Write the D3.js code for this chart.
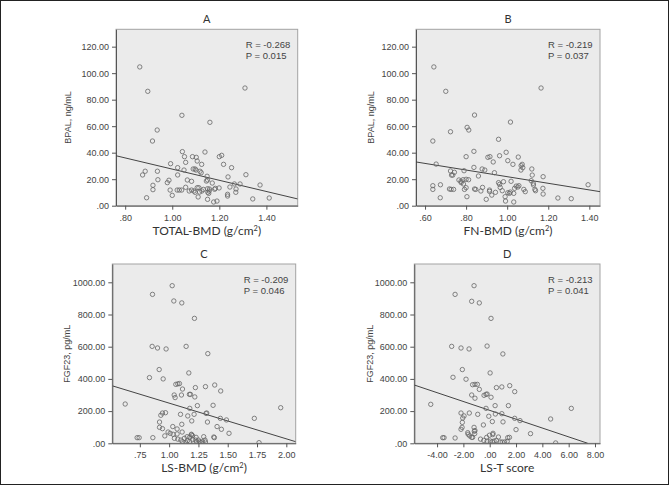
<!DOCTYPE html>
<html><head><meta charset="utf-8">
<script src="https://cdn.jsdelivr.net/npm/d3@7/dist/d3.min.js"></script>
<style>body{margin:0;background:#fff}</style></head>
<body><svg id="c" width="669" height="485"></svg>
<script>
// ---- data ----
const totalBmdBpal = [[0.862,104.7],[0.896,86.3],[1.309,88.8],[1.041,68.2],[1.160,62.9],[0.936,57.1],[0.916,48.8],
[1.043,40.8],[1.139,40.5],[1.052,37],[1.086,37],[1.102,36.5],[1.20,37],[1.21,38],
[1.057,32.7],[1.106,33.7],[1.125,31.2],[1.218,31.2],[0.993,31.7],[1.023,28.7],[1.05,26.9],
[1.089,27.7],[1.097,27.7],[1.101,26.9],[1.118,26],[1.123,24.9],[1.252,28.7],[1.313,23.4],
[0.885,26],[0.874,23.2],[0.937,26],[1.023,23.2],[1.148,22.2],[1.237,21.7],[0.939,19.6],
[0.986,19.2],[0.979,17.4],[1.064,19.4],[1.082,18.4],[1.145,18.6],[1.15,19.4],[1.17,17.1],
[1.264,16.4],[1.288,16.4],[1.373,15.6],[0.918,15.4],[0.918,12.1],[0.991,11.8],[1.021,11.8],
[1.03,11.8],[1.04,11.8],[1.057,13.9],[1.072,11.1],[1.082,11.8],[1.092,11.1],[1.097,10.1],
[1.106,13.6],[1.113,13.6],[1.116,10.3],[1.126,11.1],[1.132,12.3],[1.150,12.8],[1.157,11.1],[1.151,10.1],[1.155,9.3],[1.158,12.6],
[1.18,12.4],[1.183,13.1],[1.199,13.4],[1.245,14.1],[1.27,10.1],[1.271,12.6],[1.235,8.6],
[1.235,7.3],[0.891,6],[1.0,7.8],[1.11,6.6],[1.15,4.8],[1.176,2.8],[1.19,3.5],[1.342,5.1],[1.412,5.8]];

const fnBmdBpal = [[0.643,104.7],[0.701,86.3],[1.165,88.8],[0.841,68.4],[1.016,63.1],[0.805,59.1],[0.813,57.1],[0.724,55.8],[0.638,48.8],[0.958,50.1],[0.838,41],[0.800,37],[0.906,36.5],[0.916,37],[0.963,37.7],[0.995,40.3],[1.054,36.7],[0.932,33],[1.003,34],[1.028,31.2],[1.068,30.2],[1.073,31.2],[0.654,31.4],[1.120,27.7],[0.838,28.9],[0.878,27.7],[0.891,26.9],[1.067,26.9],[1.076,28.7],[0.938,24.9],[1.122,23.1],[0.724,26.2],[0.729,23.1],[0.735,23.1],[0.743,25.2],[0.790,26.4],[1.175,21.9],[0.860,22.4],[0.958,17.4],[0.963,16.1],[0.982,18.1],[1.019,18.4],[1.117,18.9],[1.044,14.8],[1.052,14.1],[1.057,15.1],[1.036,13.1],[1.127,16.9],[1.128,15.6],[0.638,15.1],[0.638,12.3],[0.675,15.8],[0.765,19.4],[0.775,18.4],[0.785,19.6],[0.80,19.9],[0.812,19.6],[0.776,17.4],[0.787,16.4],[0.719,12.6],[0.727,12.3],[0.739,12.3],[0.792,12.3],[0.80,13.6],[0.841,12.6],[0.847,12.3],[0.872,11.1],[0.88,13.8],[0.914,11.8],[0.914,10.8],[0.925,8],[0.943,10.1],[0.966,13.8],[0.976,11.3],[1.003,9.8],[1.011,9.3],[1.015,10.3],[0.990,6.8],[1.032,9.3],[1.081,12.3],[1.088,10.6],[1.135,12.3],[1.138,11.3],[1.174,13.1],[1.175,8.8],[0.674,6],[0.804,6.8],[0.898,4.8],[0.992,3.5],[1.032,2.8],[1.247,5.8],[1.312,5.3],[1.394,15.8]];

const lsBmdFgf = [[1.026,979],[0.858,925],[1.040,884],[1.108,872],[1.216,776],[0.855,602],[0.901,592],[0.974,586],[1.145,602],[1.330,557],[0.915,458],[0.832,408],[0.949,400],[1.168,437],[1.057,366],[1.074,369],[1.088,371],[1.224,346],[1.310,352],[1.389,362],[1.114,337],[1.173,304],[1.182,304],[1.043,300],[1.105,300],[1.051,284],[1.219,288],[1.440,325],[0.625,244],[1.176,217],[1.241,234],[1.375,236],[1.315,186],[1.321,188],[1.213,180],[1.159,170],[1.097,180],[0.943,188],[0.969,190],[0.929,174],[0.918,132],[1.193,139],[1.327,132],[1.108,118],[1.437,155],[1.489,145],[1.727,155],[1.952,221],[0.918,99],[0.943,91],[1.031,104],[1.068,89],[0.991,70],[1.009,62],[1.034,56],[1.068,58],[1.111,70],[0.963,46],[1.190,56],[1.190,52],[1.153,41],[1.176,39],[1.230,37],[1.295,41],[1.381,39],[1.386,35],[1.409,104],[1.446,87],[1.511,62],[0.727,35],[0.744,35],[0.861,35],[1.767,4],[1.045,31],[1.074,26],[1.10,20],[1.115,10],[1.13,31],[1.14,4],[1.156,16],[1.176,12],[1.20,47],[1.20,22],[1.227,20],[1.235,8],[1.25,20],[1.26,9],[1.27,4],[1.284,10],[1.306,20],[1.31,8]];

const lsTFgf = [[-1.19,979],[-2.63,925],[-1.37,882],[-0.79,872],[0.10,776],[-2.89,602],[-2.18,592],[-1.57,586],[-0.2,604],[1.0,555],[-2.08,458],[-2.79,410],[-1.80,398],[0.03,437],[-1.3,364],[-1.12,366],[-0.94,366],[-1.37,300],[-1.12,280],[-0.79,335],[-0.28,304],[-0.2,306],[-0.43,298],[0.1,286],[0.51,346],[0.92,350],[1.52,358],[1.90,321],[-4.48,242],[0.41,234],[-0.28,217],[1.42,234],[0.92,184],[0.43,182],[-0.91,180],[-0.07,168],[-2.18,188],[-1.95,170],[-2.05,157],[-1.55,188],[-2.08,130],[0.20,135],[1.01,133],[1.90,155],[2.30,141],[4.63,151],[6.2,217],[-2.10,99],[-2.18,87],[-1.19,99],[-1.12,79],[-0.48,114],[2.0,85],[-1.64,56],[-1.67,66],[-1.52,46],[-1.17,75],[-1.14,60],[3.10,60],[0.23,54],[0.25,62],[-0.02,50],[-0.23,37],[0.66,39],[1.37,35],[1.50,37],[-3.57,35],[-3.47,35],[-2.63,33],[-1.37,37],[-1.30,37],[-0.7,26],[-0.45,18],[-0.2,14],[0.05,14],[0.2,10],[0.33,14],[0.5,18],[0.8,8],[0.95,8],[1.13,8],[1.33,12],[5.01,2]];

// regression line end points (x, y)
const fitA = [[0.761,37.7],[1.533,5.1]];
const fitB = [[0.556,33.0],[1.452,10.6]];
const fitC = [[0.52,356],[2.08,10]];
const fitD = [[-5.73,362],[7.45,0]];

const statsA = ["R = -0.268","P = 0.015"];
const statsB = ["R = -0.219","P = 0.037"];
const statsC = ["R = -0.209","P = 0.046"];
const statsD = ["R = -0.213","P = 0.041"];

const xTicksA = [0.8,1.0,1.2,1.4];
const xTicksB = [0.6,0.8,1.0,1.2,1.4];
const xTicksC = [0.75,1.0,1.25,1.5,1.75,2.0];
const xTicksD = [-4,-2,0,2,4,6,8];
const yTicksBpal = [0,20,40,60,80,100,120];
const yTicksFgf = [0,200,400,600,800,1000];

const panelTitles = ["A","B","C","D"];
const xTitles = [["TOTAL-BMD (g/cm","2",")"],["FN-BMD (g/cm","2",")"],["LS-BMD (g/cm","2",")"],["LS-T score","",""]];
const yTitles = ["BPAL, ng/mL","BPAL, ng/mL","FGF23, pg/mL","FGF23, pg/mL"];

// ---- layout ----
const panels = [
 {pts: totalBmdBpal, box:[116,29.3,297.7,205.7], xd:[0.761,1.533], yd:[0,133.1], xt:xTicksA, yt:yTicksBpal, fit:fitA, stats:statsA, ytx:68},
 {pts: fnBmdBpal, box:[416,29.3,600,205.7], xd:[0.556,1.452], yd:[0,133.1], xt:xTicksB, yt:yTicksBpal, fit:fitB, stats:statsB, ytx:371},
 {pts: lsBmdFgf, box:[112.3,264,295.7,443.3], xd:[0.515,2.08], yd:[0,1113.7], xt:xTicksC, yt:yTicksFgf, fit:fitC, stats:statsC, ytx:67},
 {pts: lsTFgf, box:[414.3,264,600,443.3], xd:[-5.73,8.38], yd:[0,1113.7], xt:xTicksD, yt:yTicksFgf, fit:fitD, stats:statsD, ytx:370}
];

const fmt = v => { let s = (+v).toFixed(2); return s.replace(/^(-?)0\./, "$1."); };

const svg = d3.select("#c");
svg.append("rect").attr("x",0.5).attr("y",0.5).attr("width",668).attr("height",484)
  .attr("fill","#fff").attr("stroke","#222").attr("stroke-width",1);

panels.forEach((p,i) => {
  const [x0,y0,x1,y1] = p.box;
  const x = d3.scaleLinear().domain(p.xd).range([x0,x1]);
  const y = d3.scaleLinear().domain(p.yd).range([y1,y0]);
  const g = svg.append("g");
  const cid = "clip"+i;
  g.append("clipPath").attr("id",cid).append("rect").attr("x",x0).attr("y",y0).attr("width",x1-x0).attr("height",y1-y0);
  g.append("rect").attr("x",x0).attr("y",y0).attr("width",x1-x0).attr("height",y1-y0)
    .attr("fill","#ebebeb").attr("stroke","#a3a3a3").attr("stroke-width",1);

  const ax = g.append("g").attr("transform",`translate(0,${y1})`)
    .call(d3.axisBottom(x).tickValues(p.xt).tickFormat(fmt).tickSize(4).tickSizeOuter(0));
  const ay = g.append("g").attr("transform",`translate(${x0},0)`)
    .call(d3.axisLeft(y).tickValues(p.yt).tickFormat(fmt).tickSize(4).tickSizeOuter(0));
  [ax,ay].forEach(a => {
    a.select(".domain").attr("stroke","#555");
    a.selectAll(".tick line").attr("stroke","#555");
    a.selectAll(".tick text").attr("fill","#444").style("font-family","'Liberation Sans', Arial, sans-serif").style("font-size","9px");
  });
  ax.selectAll(".tick text").attr("dy","0.9em");

  const pg = g.append("g").attr("clip-path",`url(#${cid})`);
  pg.append("line").attr("x1",x(p.fit[0][0])).attr("y1",y(p.fit[0][1]))
    .attr("x2",x(p.fit[1][0])).attr("y2",y(p.fit[1][1]))
    .attr("stroke","#444").attr("stroke-width",1);
  pg.selectAll("circle").data(p.pts).join("circle")
    .attr("cx",d=>x(d[0])).attr("cy",d=>y(d[1])).attr("r",2.2)
    .attr("fill","none").attr("stroke","#666").attr("stroke-width",0.8);

  // stats text
  g.append("text").attr("x",x1-52).attr("y",y0+19).text(p.stats[0])
    .attr("fill","#444").style("font-family","'Liberation Sans', Arial, sans-serif").style("font-size","9.5px");
  g.append("text").attr("x",x1-52).attr("y",y0+30).text(p.stats[1])
    .attr("fill","#444").style("font-family","'Liberation Sans', Arial, sans-serif").style("font-size","9.5px");

  // panel title
  g.append("text").attr("x",(x0+x1)/2).attr("y",y0-6).attr("text-anchor","middle").text(panelTitles[i])
    .attr("fill","#333").style("font-family","Lato, sans-serif").style("font-size","11px");

  // x title
  const xt = g.append("text").attr("x",(x0+x1)/2).attr("y",y1+29).attr("text-anchor","middle")
    .attr("fill","#333").style("font-family","Lato, sans-serif").style("font-size","12px");
  xt.append("tspan").text(xTitles[i][0]);
  if (xTitles[i][1]) {
    xt.append("tspan").attr("dy","-4").style("font-size","7.5px").text(xTitles[i][1]);
    xt.append("tspan").attr("dy","4").text(xTitles[i][2]);
  }

  // y title
  g.append("text").attr("transform",`translate(${p.ytx},${(y0+y1)/2}) rotate(-90)`)
    .attr("text-anchor","middle").attr("dy","0.35em").text(yTitles[i])
    .attr("fill","#444").style("font-family","'Liberation Sans', Arial, sans-serif").style("font-size","9px");
});
</script>
</body></html>
